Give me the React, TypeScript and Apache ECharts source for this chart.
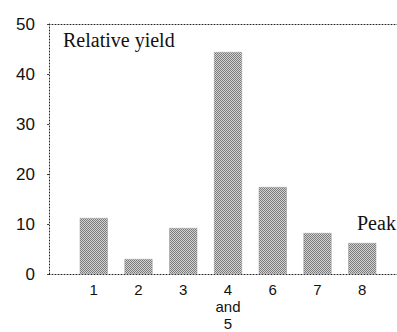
import React, { useEffect, useRef } from "react";
import * as echarts from "echarts";

const categories = ["", "1", "2", "3", "4\nand\n5", "6", "7", "8", ""];
const yieldValues: (number | null)[] = [null, 11.2, 3, 9.2, 44.4, 17.4, 8.2, 6.2, null];
const yTicks = [0, 10, 20, 30, 40, 50];
const titleText = "Relative yield";
const peakText = "Peak";

function makePattern(): HTMLCanvasElement {
  const c = document.createElement("canvas");
  c.width = 2;
  c.height = 2;
  const ctx = c.getContext("2d")!;
  ctx.fillStyle = "#d4d4d4";
  ctx.fillRect(0, 0, 2, 2);
  ctx.fillStyle = "#7a7a7a";
  ctx.fillRect(0, 0, 1, 1);
  ctx.fillRect(1, 1, 1, 1);
  return c;
}

function dotted() {
  return { show: true, onZero: false, lineStyle: { color: "#222", width: 1, type: [1, 2] } };
}

export default function App() {
  const ref = useRef<HTMLDivElement>(null);
  useEffect(() => {
    if (!ref.current) return;
    const chart = echarts.init(ref.current, undefined, { renderer: "svg" });
    chart.setOption({
      animation: false,
      backgroundColor: "#fff",
      grid: { left: 49, top: 24, bottom: 58, right: 13, containLabel: false, outerBoundsMode: "none" },
      xAxis: [
        {
          type: "category",
          data: categories,
          boundaryGap: false,
          axisLine: dotted(),
          axisTick: { show: false },
          splitLine: { show: false },
          axisLabel: {
            color: "#111",
            fontFamily: "Liberation Sans",
            fontSize: 15,
            lineHeight: 17,
            margin: 7,
            interval: 0,
          },
        },
        {
          type: "category",
          data: categories,
          boundaryGap: false,
          position: "top",
          axisLine: dotted(),
          axisTick: { show: false },
          axisLabel: { show: false },
          splitLine: { show: false },
        },
      ],
      yAxis: {
        type: "value",
        min: yTicks[0],
        max: yTicks[yTicks.length - 1],
        interval: 10,
        axisLine: dotted(),
        axisTick: { show: true, length: 2, lineStyle: { color: "#444" } },
        splitLine: { show: false },
        axisLabel: {
          color: "#111",
          fontFamily: "Liberation Sans",
          fontSize: 17,
          margin: 14,
        },
      },
      series: [
        {
          type: "bar",
          data: yieldValues,
          barWidth: 28,
          itemStyle: {
            color: { image: makePattern(), repeat: "repeat" } as any,
            borderColor: "#999",
            borderWidth: 0.5,
          },
        },
      ],
      graphic: [
        {
          type: "text",
          left: 63,
          top: 30,
          style: {
            text: titleText,
            font: "20px 'Liberation Serif'",
            fill: "#111",
          },
        },
        {
          type: "text",
          left: 357,
          top: 213,
          style: {
            text: peakText,
            font: "20px 'Liberation Serif'",
            fill: "#111",
          },
        },
      ],
    });
    return () => chart.dispose();
  }, []);
  return (
    <div
      ref={ref}
      style={{ position: "fixed", left: 0, top: 0, width: 420, height: 332 }}
    />
  );
}
